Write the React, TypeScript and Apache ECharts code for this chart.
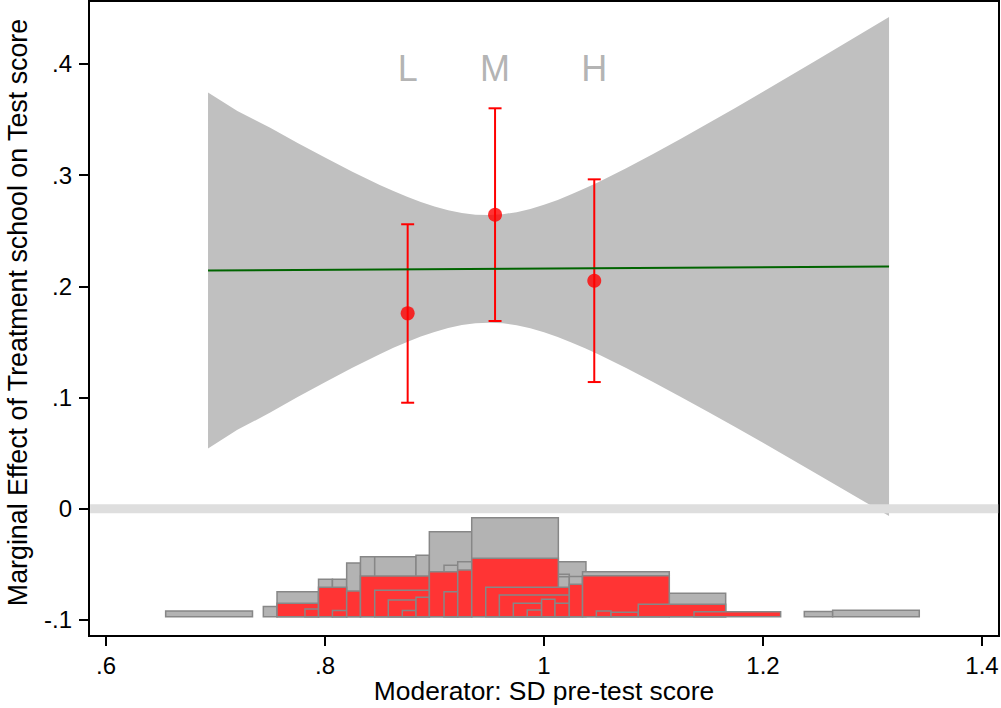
import { useEffect, useRef } from 'react';
import * as echarts from 'echarts';

// Axis ranges and ticks
const xMin = 0.5845;
const xMax = 1.4155;
const yMin = -0.1145;
const yMax = 0.4566;
const xTickValues = [0.6, 0.8, 1, 1.2, 1.4];
const yTickValues = [-0.1, 0, 0.1, 0.2, 0.3, 0.4];

// Confidence band
const bandX = [0.6932, 0.72, 0.75, 0.775, 0.8, 0.825, 0.85, 0.8625, 0.875, 0.8875, 0.9, 0.9125, 0.925, 0.9375, 0.95, 0.9625, 0.975, 0.9875, 1.0, 1.0125, 1.025, 1.0375, 1.05, 1.075, 1.1, 1.125, 1.15, 1.175, 1.2, 1.25, 1.3151];
const bandUpper = [0.3742, 0.3577, 0.3426, 0.3288, 0.3158, 0.3031, 0.2912, 0.2857, 0.2806, 0.2758, 0.2718, 0.2684, 0.2659, 0.2644, 0.2641, 0.2649, 0.2667, 0.2696, 0.2734, 0.2777, 0.2827, 0.2881, 0.2939, 0.3062, 0.3192, 0.3328, 0.3466, 0.3607, 0.375, 0.404, 0.4422];
const bandLower = [0.0542, 0.0709, 0.0864, 0.1005, 0.1138, 0.1267, 0.139, 0.1447, 0.15, 0.1548, 0.159, 0.1626, 0.1651, 0.1668, 0.1673, 0.1667, 0.1649, 0.1622, 0.1586, 0.1543, 0.1495, 0.1443, 0.1387, 0.1266, 0.1138, 0.1004, 0.087, 0.0733, 0.0592, 0.0308, -0.0066];

// Linear marginal effect line
const lineX = [0.6932, 1.3151];
const lineY = [0.2142, 0.2178];

// Binned estimates
const binLabels = ['L', 'M', 'H'];
const binX = [0.8755, 0.9553, 1.0459];
const binY = [0.1757, 0.2644, 0.205];
const binLo = [0.0953, 0.1688, 0.1139];
const binHi = [0.2558, 0.3601, 0.2962];
const binLabelY = 0.3959;

// Zero reference line
const zeroX = [0.5855, 1.4148];

// Histogram rectangles: [x0, x1, top]; base value shared
const histBase = -0.0971;
const grayRects = [
  [0.6545, 0.7338, -0.092],
  [0.7437, 0.7562, -0.088],
  [0.7562, 0.7941, -0.0746],
  [0.7941, 0.8068, -0.0635],
  [0.8068, 0.8198, -0.0635],
  [0.8198, 0.8324, -0.0488],
  [0.8324, 0.8454, -0.0432],
  [0.8454, 0.8831, -0.0432],
  [0.8831, 0.8953, -0.0419],
  [0.8953, 0.934, -0.0207],
  [0.9087, 0.9212, -0.0509],
  [0.9212, 0.934, -0.0477],
  [0.934, 1.0131, -0.0081],
  [1.0131, 1.0383, -0.0477],
  [1.0131, 1.0231, -0.059],
  [1.0131, 1.0231, -0.0612],
  [1.0231, 1.0352, -0.061],
  [1.0352, 1.1144, -0.0567],
  [1.1144, 1.1659, -0.0761],
  [1.2377, 1.2636, -0.0924],
  [1.2636, 1.3427, -0.0914],
];
const redRects = [
  [0.7562, 0.7941, -0.0851],
  [0.7817, 0.7941, -0.0902],
  [0.7941, 0.8198, -0.0707],
  [0.8068, 0.8198, -0.0915],
  [0.8198, 0.8324, -0.074],
  [0.8324, 0.8953, -0.0605],
  [0.8454, 0.8953, -0.0734],
  [0.8578, 0.8831, -0.0821],
  [0.8706, 0.8831, -0.0915],
  [0.8831, 0.8953, -0.0797],
  [0.8953, 0.9212, -0.0567],
  [0.9087, 0.9212, -0.0746],
  [0.9212, 0.934, -0.0551],
  [0.934, 1.0131, -0.0446],
  [0.9468, 1.0231, -0.0707],
  [0.9592, 1.0231, -0.0776],
  [0.972, 0.9978, -0.0851],
  [0.9847, 0.9978, -0.0911],
  [0.9978, 1.01, -0.0815],
  [1.01, 1.0231, -0.0851],
  [1.0231, 1.0352, -0.068],
  [1.0352, 1.1144, -0.0603],
  [1.0478, 1.0612, -0.092],
  [1.0612, 1.0861, -0.0932],
  [1.0861, 1.1659, -0.086],
  [1.137, 1.2161, -0.0926],
];

const FONT = "'Liberation Sans', Arial, Helvetica, sans-serif";
const fmt = (v: number) => String(Math.round(v * 10) / 10).replace(/^(-?)0\./, '$1.');

const rectRender = (fill: string) => (params: any, api: any) => {
  const p0 = api.coord([api.value(0), api.value(2)]);
  const p1 = api.coord([api.value(1), histBase]);
  return {
    type: 'rect',
    shape: { x: p0[0], y: p0[1], width: p1[0] - p0[0], height: p1[1] - p0[1] },
    style: { fill, stroke: '#878787', lineWidth: 1.5 },
  };
};

export default function App() {
  const ref = useRef<HTMLDivElement>(null);
  useEffect(() => {
    document.body.style.margin = '0';
    const chart = echarts.init(ref.current as HTMLDivElement, null, { renderer: 'svg' });
    const option: any = {
      animation: false,
      backgroundColor: '#ffffff',
      grid: {
        left: 89,
        right: 2,
        top: 1,
        bottom: 72,
        show: true,
        borderColor: '#000',
        borderWidth: 2,
        containLabel: false,
        outerBoundsMode: 'none',
      },
      xAxis: {
        type: 'value',
        min: xMin,
        max: xMax,
        name: 'Moderator: SD pre-test score',
        nameLocation: 'middle',
        nameGap: 42,
        nameMoveOverlap: false,
        nameTextStyle: { fontFamily: FONT, fontSize: 26.4, color: '#000' },
        axisLine: { show: true, onZero: false, lineStyle: { color: '#000', width: 2 } },
        axisTick: { show: true, length: 10, lineStyle: { color: '#000', width: 2 }, customValues: xTickValues },
        axisLabel: {
          customValues: xTickValues,
          formatter: (v: number) => fmt(v),
          margin: 17,
          fontFamily: FONT,
          fontSize: 24,
          color: '#000',
        },
        splitLine: { show: false },
      },
      yAxis: {
        type: 'value',
        min: yMin,
        max: yMax,
        name: 'Marginal Effect of Treatment school on Test score',
        nameLocation: 'middle',
        nameGap: 58,
        nameMoveOverlap: false,
        nameTextStyle: { fontFamily: FONT, fontSize: 26.8, color: '#000', padding: [0, 0, 0, 12] },
        axisLine: { show: true, onZero: false, lineStyle: { color: '#000', width: 2 } },
        axisTick: { show: true, length: 10, lineStyle: { color: '#000', width: 2 }, customValues: yTickValues },
        axisLabel: {
          customValues: yTickValues,
          formatter: (v: number) => fmt(v),
          margin: 17,
          fontFamily: FONT,
          fontSize: 24,
          color: '#000',
        },
        splitLine: { show: false },
      },
      series: [
        {
          type: 'line',
          data: zeroX.map((x) => [x, 0]),
          symbol: 'none',
          lineStyle: { color: '#dedede', width: 9 },
          silent: true,
        },
        {
          type: 'custom',
          data: [[bandX[0], bandUpper[0]]],
          renderItem: (params: any, api: any) => {
            const pts: number[][] = [];
            bandX.forEach((x, i) => pts.push(api.coord([x, bandUpper[i]])));
            for (let i = bandX.length - 1; i >= 0; i--) pts.push(api.coord([bandX[i], bandLower[i]]));
            return { type: 'polygon', shape: { points: pts }, style: { fill: '#c0c0c0' } };
          },
          silent: true,
        },
        {
          type: 'custom',
          data: grayRects,
          encode: { x: [0, 1], y: 2 },
          renderItem: rectRender('#b3b3b3'),
          silent: true,
        },
        {
          type: 'custom',
          data: redRects,
          encode: { x: [0, 1], y: 2 },
          renderItem: rectRender('#ff3434'),
          silent: true,
        },
        {
          type: 'line',
          data: lineX.map((x, i) => [x, lineY[i]]),
          symbol: 'none',
          lineStyle: { color: '#006400', width: 2.2 },
          silent: true,
        },
        {
          type: 'custom',
          data: binX.map((x, i) => [x, binLo[i], binHi[i]]),
          encode: { x: 0, y: [1, 2] },
          renderItem: (params: any, api: any) => {
            const lo = api.coord([api.value(0), api.value(1)]);
            const hi = api.coord([api.value(0), api.value(2)]);
            const hw = 6.5;
            const st = { stroke: '#ff0000', lineWidth: 2 };
            return {
              type: 'group',
              children: [
                { type: 'line', shape: { x1: lo[0], y1: lo[1], x2: hi[0], y2: hi[1] }, style: st },
                { type: 'line', shape: { x1: lo[0] - hw, y1: lo[1], x2: lo[0] + hw, y2: lo[1] }, style: st },
                { type: 'line', shape: { x1: hi[0] - hw, y1: hi[1], x2: hi[0] + hw, y2: hi[1] }, style: st },
              ],
            };
          },
          silent: true,
        },
        {
          type: 'scatter',
          data: binX.map((x, i) => [x, binY[i]]),
          symbol: 'circle',
          symbolSize: 14,
          itemStyle: { color: '#ff0000' },
          silent: true,
        },
        {
          type: 'scatter',
          data: binX.map((x, i) => [x, binLabelY, binLabels[i]]),
          symbol: 'circle',
          symbolSize: 0.1,
          itemStyle: { color: 'rgba(0,0,0,0)' },
          label: {
            show: true,
            position: 'inside',
            formatter: (p: any) => p.value[2],
            fontFamily: FONT,
            fontSize: 36,
            color: '#a0a0a0',
          },
          silent: true,
        },
      ],
    };
    chart.setOption(option);
    return () => chart.dispose();
  }, []);
  return <div ref={ref} style={{ width: 1001, height: 708 }} />;
}
